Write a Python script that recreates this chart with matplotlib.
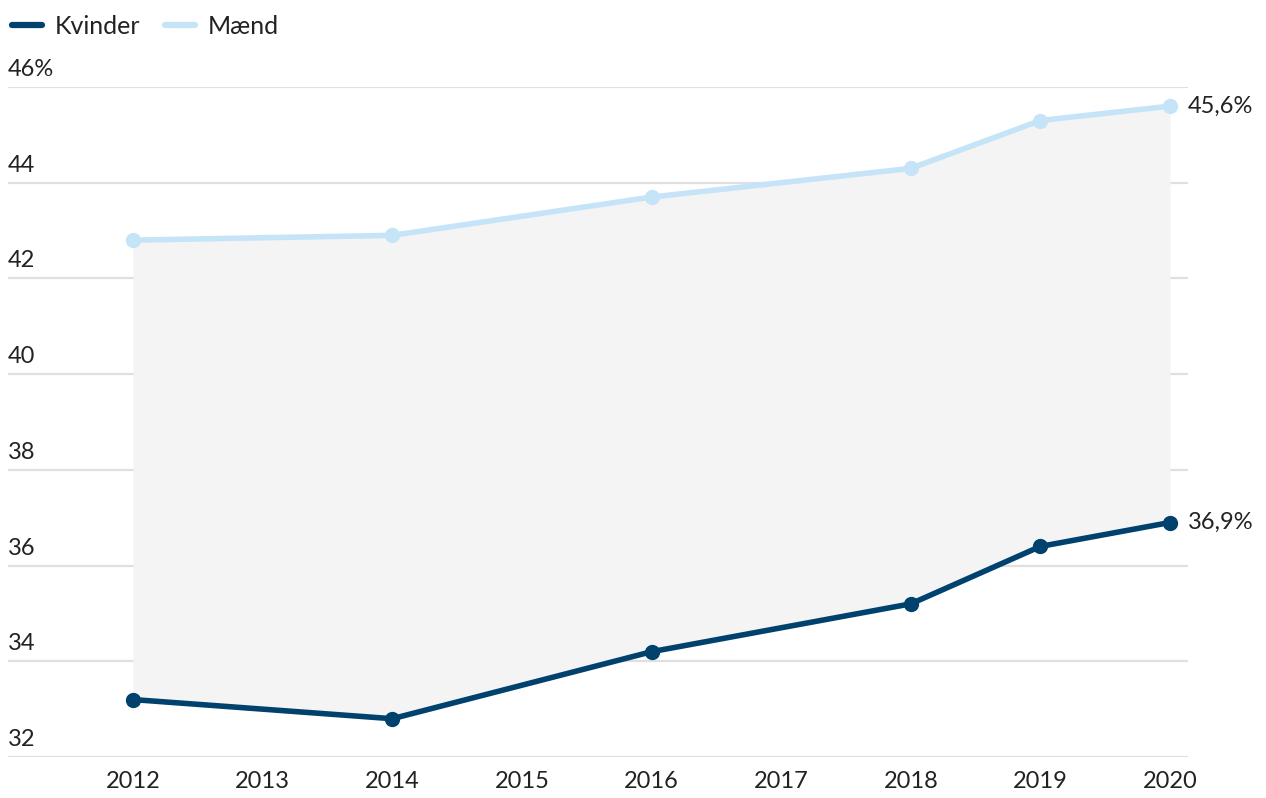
import matplotlib.pyplot as plt
from matplotlib.lines import Line2D
import matplotlib.transforms as mtransforms

plt.rcParams['font.family'] = ['Lato', 'DejaVu Sans']

years = [2012, 2014, 2016, 2018, 2019, 2020]
kvinder = [33.2, 32.8, 34.2, 35.2, 36.4, 36.9]
maend = [42.8, 42.9, 43.7, 44.3, 45.3, 45.6]
xticks = list(range(2012, 2021))
yticks = [32, 34, 36, 38, 40, 42, 44, 46]
end_labels = ['36,9%', '45,6%']

dark = '#00416e'
light = '#c6e4f8'
txt = '#222222'

W, H = 1266, 798
fig = plt.figure(figsize=(W / 100, H / 100), dpi=100)
ax = fig.add_axes([8 / W, 1 - 757 / H, 1180 / W, 670 / H])

ax.fill_between(years, kvinder, maend, color='#f4f4f4', lw=0, zorder=1)
ax.plot(years, maend, color=light, lw=4, marker='o', ms=10, zorder=3,
        solid_capstyle='round')
ax.plot(years, kvinder, color=dark, lw=4, marker='o', ms=10, zorder=4,
        solid_capstyle='round')

ax.set_xlim(2012 - 125 / 129.6, 2020 + 18 / 129.6)
ax.set_ylim(32, 46)
for y in yticks:
    ax.axhline(y, color='#e0e0e0', lw=1.6, zorder=0)

for s in ax.spines.values():
    s.set_visible(False)
ax.set_yticks([])
ax.set_xticks(xticks)
ax.set_xticklabels([str(x) for x in xticks], fontsize=17, color=txt)
ax.tick_params(axis='x', length=0, pad=10)

# y labels sit above their gridline, left-aligned
trans = mtransforms.blended_transform_factory(ax.transAxes, ax.transData)
lift = trans + mtransforms.ScaledTranslation(0, 7 / 100, fig.dpi_scale_trans)
for y in yticks:
    lab = f'{y}%' if y == 46 else str(y)
    ax.text(0, y, lab, transform=lift, ha='left', va='bottom', fontsize=17,
            color=txt)

# end labels
ax.annotate(end_labels[0], (years[-1], kvinder[-1]), xytext=(13, 0),
            textcoords='offset points', ha='left', va='center', fontsize=17,
            color=txt, annotation_clip=False)
ax.annotate(end_labels[1], (years[-1], maend[-1]), xytext=(13, 0),
            textcoords='offset points', ha='left', va='center', fontsize=17,
            color=txt, annotation_clip=False)

handles = [Line2D([], [], color=dark, lw=4.5, solid_capstyle='round'),
           Line2D([], [], color=light, lw=4.5, solid_capstyle='round')]
fig.legend(handles, ['Kvinder', 'Mænd'], loc='upper left',
           bbox_to_anchor=(12 / W, 1 - 15 / H), ncol=2, frameon=False,
           fontsize=18, handlelength=1.2, handletextpad=0.5,
           columnspacing=1.0, labelcolor=txt, borderaxespad=0, borderpad=0)

fig.savefig('out.png', dpi=100)
